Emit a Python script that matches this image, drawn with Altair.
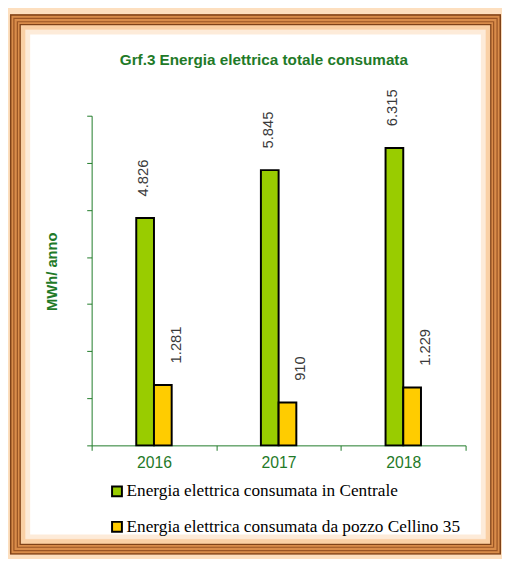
import altair as alt
import pandas as pd

years = ["2016", "2017", "2018"]
series = ["Energia elettrica consumata in Centrale",
          "Energia elettrica consumata da pozzo Cellino 35"]
centrale = [4826, 5845, 6315]
pozzo = [1281, 910, 1229]
colors = ["#99cc00", "#ffcc00"]
title_text = "Grf.3 Energia elettrica totale consumata"
y_title = "MWh/ anno"

rows = []
for i, y in enumerate(years):
    rows.append({"year": y, "series": series[0], "value": centrale[i]})
    rows.append({"year": y, "series": series[1], "value": pozzo[i]})
df = pd.DataFrame(rows)
df["label"] = df["value"].map(lambda v: f"{v:,}".replace(",", "."))

GREEN = "#1f7a28"
SANS = "Liberation Sans"
SERIF = "Liberation Serif"

OX, OY = 93, 113  # plot origin in page coords
PW, PH = 380, 335
BAND = PW / 3
BARW = 18

def frame_rect(inset, color, width, opacity=1.0):
    return alt.Chart(pd.DataFrame({"a": [0]})).mark_rect(
        fill="transparent", stroke=color, strokeWidth=width, strokeOpacity=opacity
    ).encode(
        x=alt.value(inset - OX), x2=alt.value(519 - inset - OX),
        y=alt.value(inset - OY), y2=alt.value(569 - inset - OY),
    )

frame = [
    frame_rect(6, "#fcd2a4", 8, 0.7),
    frame_rect(15.5, "#d98c4a", 11),
    frame_rect(10.75, "#7f4218", 1.5),
    frame_rect(14, "#9a5424", 1.2),
    frame_rect(17.5, "#9a5424", 1.2),
    frame_rect(20.5, "#7f4218", 1.5),
    frame_rect(23.5, "#f9c48e", 5, 0.8),
    frame_rect(28, "#fde6cf", 5, 0.8),
]

x_enc = alt.X("year:N", sort=years,
              scale=alt.Scale(paddingInner=0, paddingOuter=0),
              axis=alt.Axis(title=None, labelAngle=0, labelColor=GREEN,
                            labelFont=SANS, labelFontSize=16, labelPadding=4,
                            tickBand="extent", tickSize=5, tickColor=GREEN,
                            domainColor=GREEN, grid=False))
xo_enc = alt.XOffset("series:N", sort=series,
                     scale=alt.Scale(domain=series,
                                     range=[BAND / 2 - BARW, BAND / 2 + BARW]))
y_enc = alt.Y("value:Q", scale=alt.Scale(domain=[0, 7000]),
              axis=alt.Axis(title=y_title, labels=False, values=list(range(0, 8000, 1000)),
                            tickSize=5, tickColor=GREEN, domainColor=GREEN, grid=False,
                            titleColor=GREEN, titleFont=SANS, titleFontSize=15,
                            titleFontWeight="bold", titleAngle=270, titleX=-41, titleY=158,
                            titleAlign="center", titleBaseline="middle"))

bars = alt.Chart(df).mark_bar(stroke="black", strokeWidth=2).encode(
    x=x_enc, xOffset=xo_enc, y=y_enc,
    color=alt.Color("series:N", title=None,
                    scale=alt.Scale(domain=series, range=colors),
                    legend=alt.Legend(orient="none", legendX=17, legendY=373,
                                      direction="vertical", symbolType="square",
                                      symbolSize=100, symbolStrokeColor="black",
                                      symbolStrokeWidth=2, labelFont=SERIF,
                                      labelFontSize=17.5, labelColor="black",
                                      labelOffset=1, rowPadding=17, labelLimit=400)),
)

def labels(sname, dy):
    return alt.Chart(df).transform_filter(alt.datum.series == sname).mark_text(
        angle=270, align="left", baseline="middle", dx=22, dy=dy,
        font=SANS, fontSize=15, color="#3a3a3a"
    ).encode(x=x_enc, xOffset=xo_enc, y=y_enc, text="label:N")

title = alt.Chart(pd.DataFrame({"t": [title_text]})).mark_text(
    font=SANS, fontSize=15.5, fontWeight="bold", color=GREEN,
    align="center", baseline="middle"
).encode(x=alt.value(268 - OX), y=alt.value(56 - OY), text="t:N")

chart = alt.layer(*frame, bars, labels(series[0], -2), labels(series[1], 13), title).properties(
    width=PW, height=PH,
    autosize=alt.AutoSizeParams(type="none"),
    padding={"left": 85, "top": 105, "right": 37, "bottom": 111},
    background="white",
).configure_view(strokeOpacity=0)

chart.save("out.html", embed_options={"renderer": "svg", "actions": False})
